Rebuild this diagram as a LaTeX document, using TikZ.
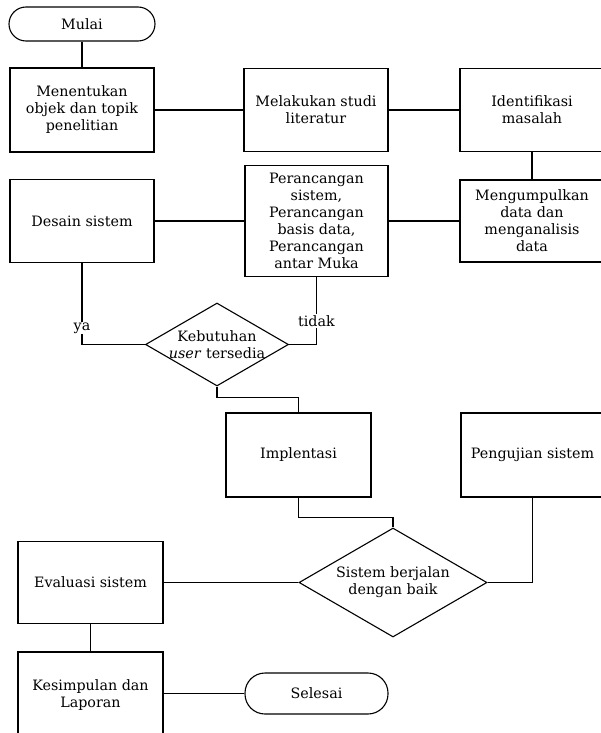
\documentclass[tikz,border=0pt]{standalone}
\usepackage{fontspec}
\setmainfont{DejaVu Serif}
\usetikzlibrary{shapes.geometric}
\begin{document}
\begin{tikzpicture}[x=1pt,y=-1pt,
  every node/.style={font=\fontsize{14.3}{17}\selectfont, align=center},
  boxnode/.style={draw, line width=1.1pt, rectangle, inner sep=0pt},
  term/.style={draw, line width=1.1pt, rectangle, inner sep=0pt},
  decision/.style={draw, line width=1.1pt, diamond, inner sep=0pt},
  conn/.style={line width=1.1pt},
  lbl/.style={fill=white, inner sep=1pt}]
\useasboundingbox (0,0) rectangle (600,733);
\fill[white] (0,0) rectangle (600,733);
% nodes
\node[term, rounded corners=17pt, minimum width=146pt, minimum height=34pt] (mulai) at (82,24) {Mulai};
\node[boxnode, minimum width=144pt, minimum height=84pt] (b1) at (82,110) {Menentukan\\objek dan topik\\penelitian};
\node[boxnode, minimum width=144pt, minimum height=83pt] (b2) at (316,110) {Melakukan studi\\literatur};
\node[boxnode, minimum width=144pt, minimum height=83pt] (b3) at (532,110) {Identifikasi\\masalah};
\node[boxnode, minimum width=144pt, minimum height=82pt] (b4) at (532,221) {Mengumpulkan\\data dan\\menganalisis\\data};
\node[boxnode, minimum width=143pt, minimum height=111pt] (b5) at (316.5,221) {Perancangan\\sistem,\\Perancangan\\basis data,\\Perancangan\\antar Muka};
\node[boxnode, minimum width=144pt, minimum height=83pt] (b6) at (82,221) {Desain sistem};
\node[decision, minimum width=143pt, minimum height=83pt] (d1) at (217,344.5) {};
\node at (d1.center) {Kebutuhan\\\textit{user} tersedia};
\node[boxnode, minimum width=145pt, minimum height=84pt] (b7) at (298.5,455) {Implentasi};
\node[boxnode, minimum width=143pt, minimum height=84pt] (b8) at (532.5,455) {Pengujian sistem};
\node[decision, minimum width=188pt, minimum height=109pt] (d2) at (393,582.5) {};
\node at (d2.center) {Sistem berjalan\\dengan baik};
\node[boxnode, minimum width=145pt, minimum height=82pt] (b9) at (90.5,582.5) {Evaluasi sistem};
\node[boxnode, minimum width=145pt, minimum height=86pt] (b10) at (90.5,695) {Kesimpulan dan\\Laporan};
\node[term, rounded corners=20pt, minimum width=143pt, minimum height=41pt] (selesai) at (316.5,693.5) {Selesai};
% connectors
\draw[conn] (mulai.south) -- (b1.north);
\draw[conn] (b1.east) -- (b2.west);
\draw[conn] (b2.east) -- (b3.west);
\draw[conn] (b3.south) -- (b4.north);
\draw[conn] (b6.east) -- (b5.west);
\draw[conn] (b5.east) -- (b4.west);
\draw[conn] (b6.south) |- (d1.west) node[pos=0.5, lbl, yshift=16.5pt] {ya};
\draw[conn] (b5.south) |- (d1.east) node[pos=0.5, lbl, yshift=23.5pt] {tidak};
\draw[conn] (d1.south) -- ++(0,11) coordinate (k1) -| (b7.north);
\draw[conn] (b7.south) -- ++(0,20) coordinate (k2) -| (d2.north);
\draw[conn] (b8.south) |- (d2.east);
\draw[conn] (d2.west) -- (b9.east);
\draw[conn] (b9.south) -- (b10.north);
\draw[conn] (selesai.west) -- (selesai.west -| b10.east);
\end{tikzpicture}
\end{document}
